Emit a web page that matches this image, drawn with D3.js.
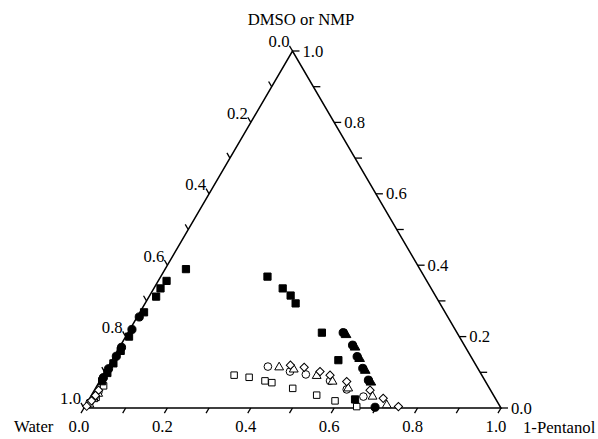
<!DOCTYPE html>
<html>
<head>
<meta charset="utf-8" />
<script src="https://cdn.jsdelivr.net/npm/d3@7"></script>
<style>
  body { margin: 0; background: #fff; }
  svg text { font-family: "Liberation Serif", "Times New Roman", serif; font-size: 16.7px; fill: #000; }
</style>
</head>
<body>
<svg class="chart" width="598" height="439"></svg>
<script>
  // [pentanol fraction, dmso/nmp fraction]; water = 1 - both
  const filledSquare = [
    [0.050, 0.389], [0.020, 0.356], [0.016, 0.335], [0.017, 0.312], [0.010, 0.268],
    [0.008, 0.200], [0.008, 0.160], [0.008, 0.125], [0.007, 0.098], [0.006, 0.075],
    [0.256, 0.368], [0.309, 0.335], [0.338, 0.315], [0.361, 0.293], [0.465, 0.211],
    [0.543, 0.134], [0.638, 0.024]
  ];
  const filledCircle = [
    [0.005, 0.255], [0.005, 0.220], [0.005, 0.170], [0.005, 0.145], [0.004, 0.110], [0.004, 0.085],
    [0.516, 0.211], [0.556, 0.176], [0.583, 0.144], [0.613, 0.111], [0.643, 0.078], [0.697, 0.002]
  ];
  const filledTriangle = [
    [0.526, 0.205], [0.565, 0.170], [0.592, 0.138], [0.622, 0.105], [0.652, 0.072]
  ];
  const openSquare = [
    [0.016, 0.062], [0.014, 0.030],
    [0.314, 0.092], [0.353, 0.086], [0.396, 0.076], [0.415, 0.071], [0.473, 0.055],
    [0.540, 0.036], [0.592, 0.020], [0.652, 0.004]
  ];
  const openCircle = [
    [0.012, 0.045], [0.010, 0.030], [0.006, 0.015],
    [0.383, 0.116], [0.443, 0.102], [0.485, 0.094], [0.552, 0.076], [0.604, 0.052], [0.654, 0.032]
  ];
  const openTriangle = [
    [0.014, 0.040], [0.010, 0.025], [0.008, 0.010],
    [0.411, 0.114], [0.449, 0.108], [0.513, 0.090], [0.559, 0.074], [0.606, 0.055],
    [0.676, 0.032], [0.722, 0.008]
  ];
  const openDiamond = [
    [0.010, 0.050], [0.010, 0.035], [0.008, 0.020], [0.004, 0.005],
    [0.435, 0.120], [0.471, 0.114], [0.515, 0.102], [0.544, 0.092], [0.593, 0.074],
    [0.661, 0.050], [0.704, 0.027], [0.752, 0.004]
  ];
  const tickValues = d3.range(0, 11).map((i) => i / 10);
  const labelValues = [0, 0.2, 0.4, 0.6, 0.8, 1.0];

  const svg = d3.select(".chart");
  const x = d3.scaleLinear().domain([0, 1]).range([84, 501]);
  const y = d3.scaleLinear().domain([0, 1]).range([408, 51]);
  // ternary -> screen
  const px = (p, d) => x(p + d / 2);
  const py = (p, d) => y(d);

  const W = [px(0, 0), py(0, 0)];
  const P = [px(1, 0), py(1, 0)];
  const A = [px(0, 1), py(0, 1)];

  svg.append("path")
    .attr("d", `M${W}L${P}L${A}Z`)
    .attr("fill", "none")
    .attr("stroke", "#000")
    .attr("stroke-width", 1.5)
    .attr("stroke-linejoin", "miter");

  const unit = (a, b) => {
    const dx = b[0] - a[0], dy = b[1] - a[1], l = Math.hypot(dx, dy);
    return [dx / l, dy / l];
  };
  const tl = 6;
  const fmt = d3.format(".1f");
  const axes = svg.append("g");

  // bottom axis: pentanol, ticks along left side direction (down-left)
  const bDir = unit(A, W);
  tickValues.forEach((t) => {
    const x0 = px(t, 0), y0 = py(t, 0);
    axes.append("line").attr("x1", x0).attr("y1", y0)
      .attr("x2", x0 + bDir[0] * tl).attr("y2", y0 + bDir[1] * tl)
      .attr("stroke", "#000").attr("stroke-width", 1.3);
  });
  labelValues.forEach((t) => {
    axes.append("text").attr("x", px(t, 0) - 5).attr("y", 432)
      .attr("text-anchor", "middle").text(fmt(t));
  });

  // left axis: water, ticks up-left (parallel to right side)
  const lDir = unit(P, A);
  tickValues.forEach((t) => {
    const d = 1 - t, x0 = px(0, d), y0 = py(0, d);
    axes.append("line").attr("x1", x0).attr("y1", y0)
      .attr("x2", x0 + lDir[0] * tl).attr("y2", y0 + lDir[1] * tl)
      .attr("stroke", "#000").attr("stroke-width", 1.3);
  });
  labelValues.forEach((t) => {
    const d = 1 - t;
    axes.append("text")
      .attr("x", px(0, d) + lDir[0] * tl)
      .attr("y", py(0, d) + lDir[1] * tl + 1.5)
      .attr("text-anchor", "end").text(fmt(t));
  });

  // right axis: dmso, horizontal ticks
  tickValues.forEach((t) => {
    const x0 = px(1 - t, t), y0 = py(1 - t, t);
    axes.append("line").attr("x1", x0).attr("y1", y0)
      .attr("x2", x0 + tl + 1).attr("y2", y0)
      .attr("stroke", "#000").attr("stroke-width", 1.3);
  });
  labelValues.forEach((t) => {
    axes.append("text").attr("x", px(1 - t, t) + tl + 4).attr("y", py(1 - t, t) + 5.5)
      .text(fmt(t));
  });

  svg.append("text").attr("x", 301).attr("y", 25).attr("text-anchor", "middle").text("DMSO or NMP");
  svg.append("text").attr("x", 14).attr("y", 432).text("Water");
  svg.append("text").attr("x", 523).attr("y", 433).text("1-Pentanol");

  const series = [
    { data: openSquare, type: d3.symbolSquare, size: 42, fill: "#fff", rot: 0 },
    { data: openCircle, type: d3.symbolCircle, size: 46, fill: "#fff", rot: 0 },
    { data: openTriangle, type: d3.symbolTriangle, size: 34, fill: "#fff", rot: 0 },
    { data: openDiamond, type: d3.symbolSquare, size: 34, fill: "#fff", rot: 45 },
    { data: filledSquare, type: d3.symbolSquare, size: 52, fill: "#000", rot: 0 },
    { data: filledCircle, type: d3.symbolCircle, size: 52, fill: "#000", rot: 0 },
    { data: filledTriangle, type: d3.symbolTriangle, size: 40, fill: "#000", rot: 0 }
  ];

  series.forEach((s) => {
    svg.append("g").selectAll("path")
      .data(s.data)
      .enter()
      .append("path")
      .attr("d", d3.symbol().type(s.type).size(s.size))
      .attr("transform", (d) => `translate(${px(d[0], d[1])},${py(d[0], d[1])}) rotate(${s.rot})`)
      .attr("fill", s.fill)
      .attr("stroke", "#000")
      .attr("stroke-width", 1);
  });
</script>
</body>
</html>
